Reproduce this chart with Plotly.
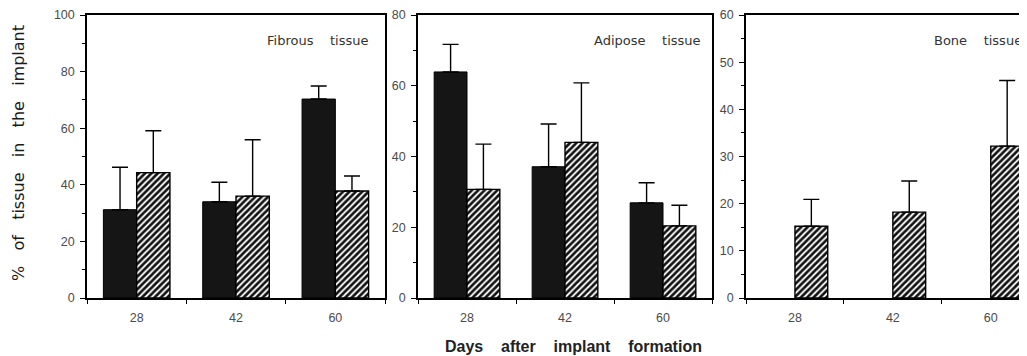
import plotly.graph_objects as go

days = ["28", "42", "60"]

fibrous_dark = [31.2, 34.0, 70.3]
fibrous_dark_err = [15.0, 6.9, 4.6]
fibrous_hatch = [44.3, 36.0, 37.8]
fibrous_hatch_err = [14.8, 19.9, 5.3]

adipose_dark = [63.9, 37.1, 26.9]
adipose_dark_err = [7.8, 12.1, 5.7]
adipose_hatch = [30.7, 44.0, 20.4]
adipose_hatch_err = [12.8, 16.8, 5.8]

bone_dark = [0, 0, 0]
bone_hatch = [15.2, 18.2, 32.2]
bone_hatch_err = [5.7, 6.6, 13.9]

NB = "&nbsp;"
panel_titles = ["Fibrous" + NB * 4 + "tissue", "Adipose" + NB * 4 + "tissue", "Bone" + NB * 4 + "tissue"]
y_title = (NB * 3).join(["%", "of", "tissue", "in", "the", "implant"])
x_title = "<b>" + (NB * 4).join(["Days", "after", "implant", "formation"]) + "</b>"

# page has an 8px body margin; figure sized to fit the window
OFF = 8
W, H = 1027 - OFF, 356 - OFF


def px(sx):
    return (sx - OFF) / W


def py(sy):
    return 1 - (sy - OFF) / H


DARK = "#151515"
TICKFONT = dict(family="Liberation Sans, Arial, sans-serif", size=12.5, color="#4a4a4a")

fig = go.Figure()


def err(vals):
    return dict(type="data", symmetric=False, array=vals, arrayminus=[0] * len(vals),
                color="black", thickness=1.4, width=8, visible=True)


panels = [
    (fibrous_dark, fibrous_dark_err, fibrous_hatch, fibrous_hatch_err),
    (adipose_dark, adipose_dark_err, adipose_hatch, adipose_hatch_err),
    (bone_dark, None, bone_hatch, bone_hatch_err),
]

for i, (d, de, h, he) in enumerate(panels):
    xa = "x" if i == 0 else f"x{i+1}"
    ya = "y" if i == 0 else f"y{i+1}"
    fig.add_trace(go.Bar(
        x=days, y=d, xaxis=xa, yaxis=ya,
        marker=dict(color=DARK, line=dict(color="black", width=1 if de is not None else 0)),
        error_y=err(de) if de is not None else dict(visible=False),
        showlegend=False,
    ))
    fig.add_trace(go.Bar(
        x=days, y=h, xaxis=xa, yaxis=ya,
        marker=dict(color="white", line=dict(color="black", width=1.4),
                    pattern=dict(shape="/", fgcolor="#111111", bgcolor="white",
                                 size=4.5, solidity=0.6)),
        error_y=err(he),
        showlegend=False,
    ))

y0 = py(298)
y1 = py(15)
xdoms = [(px(87), px(385)), (px(418), px(712)), (px(746), 1.0)]
xranges = [[-0.5, 2.5], [-0.5, 2.5], [-0.5, 2.37]]
yranges = [[0, 100], [0, 80], [0, 60]]
ydt = [20, 20, 10]

layout = dict(
    template="none",
    width=W, height=H,
    margin=dict(l=0, r=0, t=0, b=0, autoexpand=False),
    paper_bgcolor="white", plot_bgcolor="white",
    barmode="group", bargap=0.33, bargroupgap=0,
)

for i in range(3):
    sx = "" if i == 0 else str(i + 1)
    layout[f"xaxis{sx}"] = dict(
        domain=list(xdoms[i]), anchor=f"y{sx}", type="category",
        range=xranges[i], showline=True, linecolor="black", linewidth=1.5,
        mirror=True, ticks="outside", tickson="boundaries", ticklen=4,
        tickcolor="black", tickwidth=1.2, tickfont=dict(TICKFONT),
        ticklabelstandoff=7, showgrid=False, zeroline=False, automargin=False,
    )
    layout[f"yaxis{sx}"] = dict(
        domain=[y0, y1], anchor=f"x{sx}", range=yranges[i], dtick=ydt[i],
        showline=True, linecolor="black", linewidth=1.5,
        mirror=(i < 2), ticks="outside", ticklen=5, tickcolor="black",
        tickwidth=1.2, tickfont=dict(TICKFONT),
        showgrid=False, zeroline=False,
        minor=dict(dtick=ydt[i] / 2, ticks="outside", ticklen=3,
                   tickcolor="black", tickwidth=1),
        ticklabelstandoff=3, automargin=False,
    )

fig.update_layout(**layout)

ann_font = dict(family="DejaVu Sans, sans-serif", size=13, color="#333")
ann_pos = [(370, 40), (703, 40), (1024, 40)]
for t, (ax_, ay_) in zip(panel_titles, ann_pos):
    fig.add_annotation(text=t, x=px(ax_), y=py(ay_), xref="paper", yref="paper",
                       xanchor="right", yanchor="middle", showarrow=False, font=ann_font)

fig.add_annotation(
    text=y_title,
    x=px(18), y=py(153), xref="paper", yref="paper", textangle=-90,
    showarrow=False, xanchor="center", yanchor="middle",
    font=dict(family="DejaVu Sans, sans-serif", size=16, color="#1a1a1a"),
)
fig.add_annotation(
    text=x_title,
    x=px(573), y=py(346), xref="paper", yref="paper",
    showarrow=False, xanchor="center", yanchor="middle",
    font=dict(family="Liberation Sans, Arial, sans-serif", size=16, color="#222"),
)

fig.write_html("out.html")
